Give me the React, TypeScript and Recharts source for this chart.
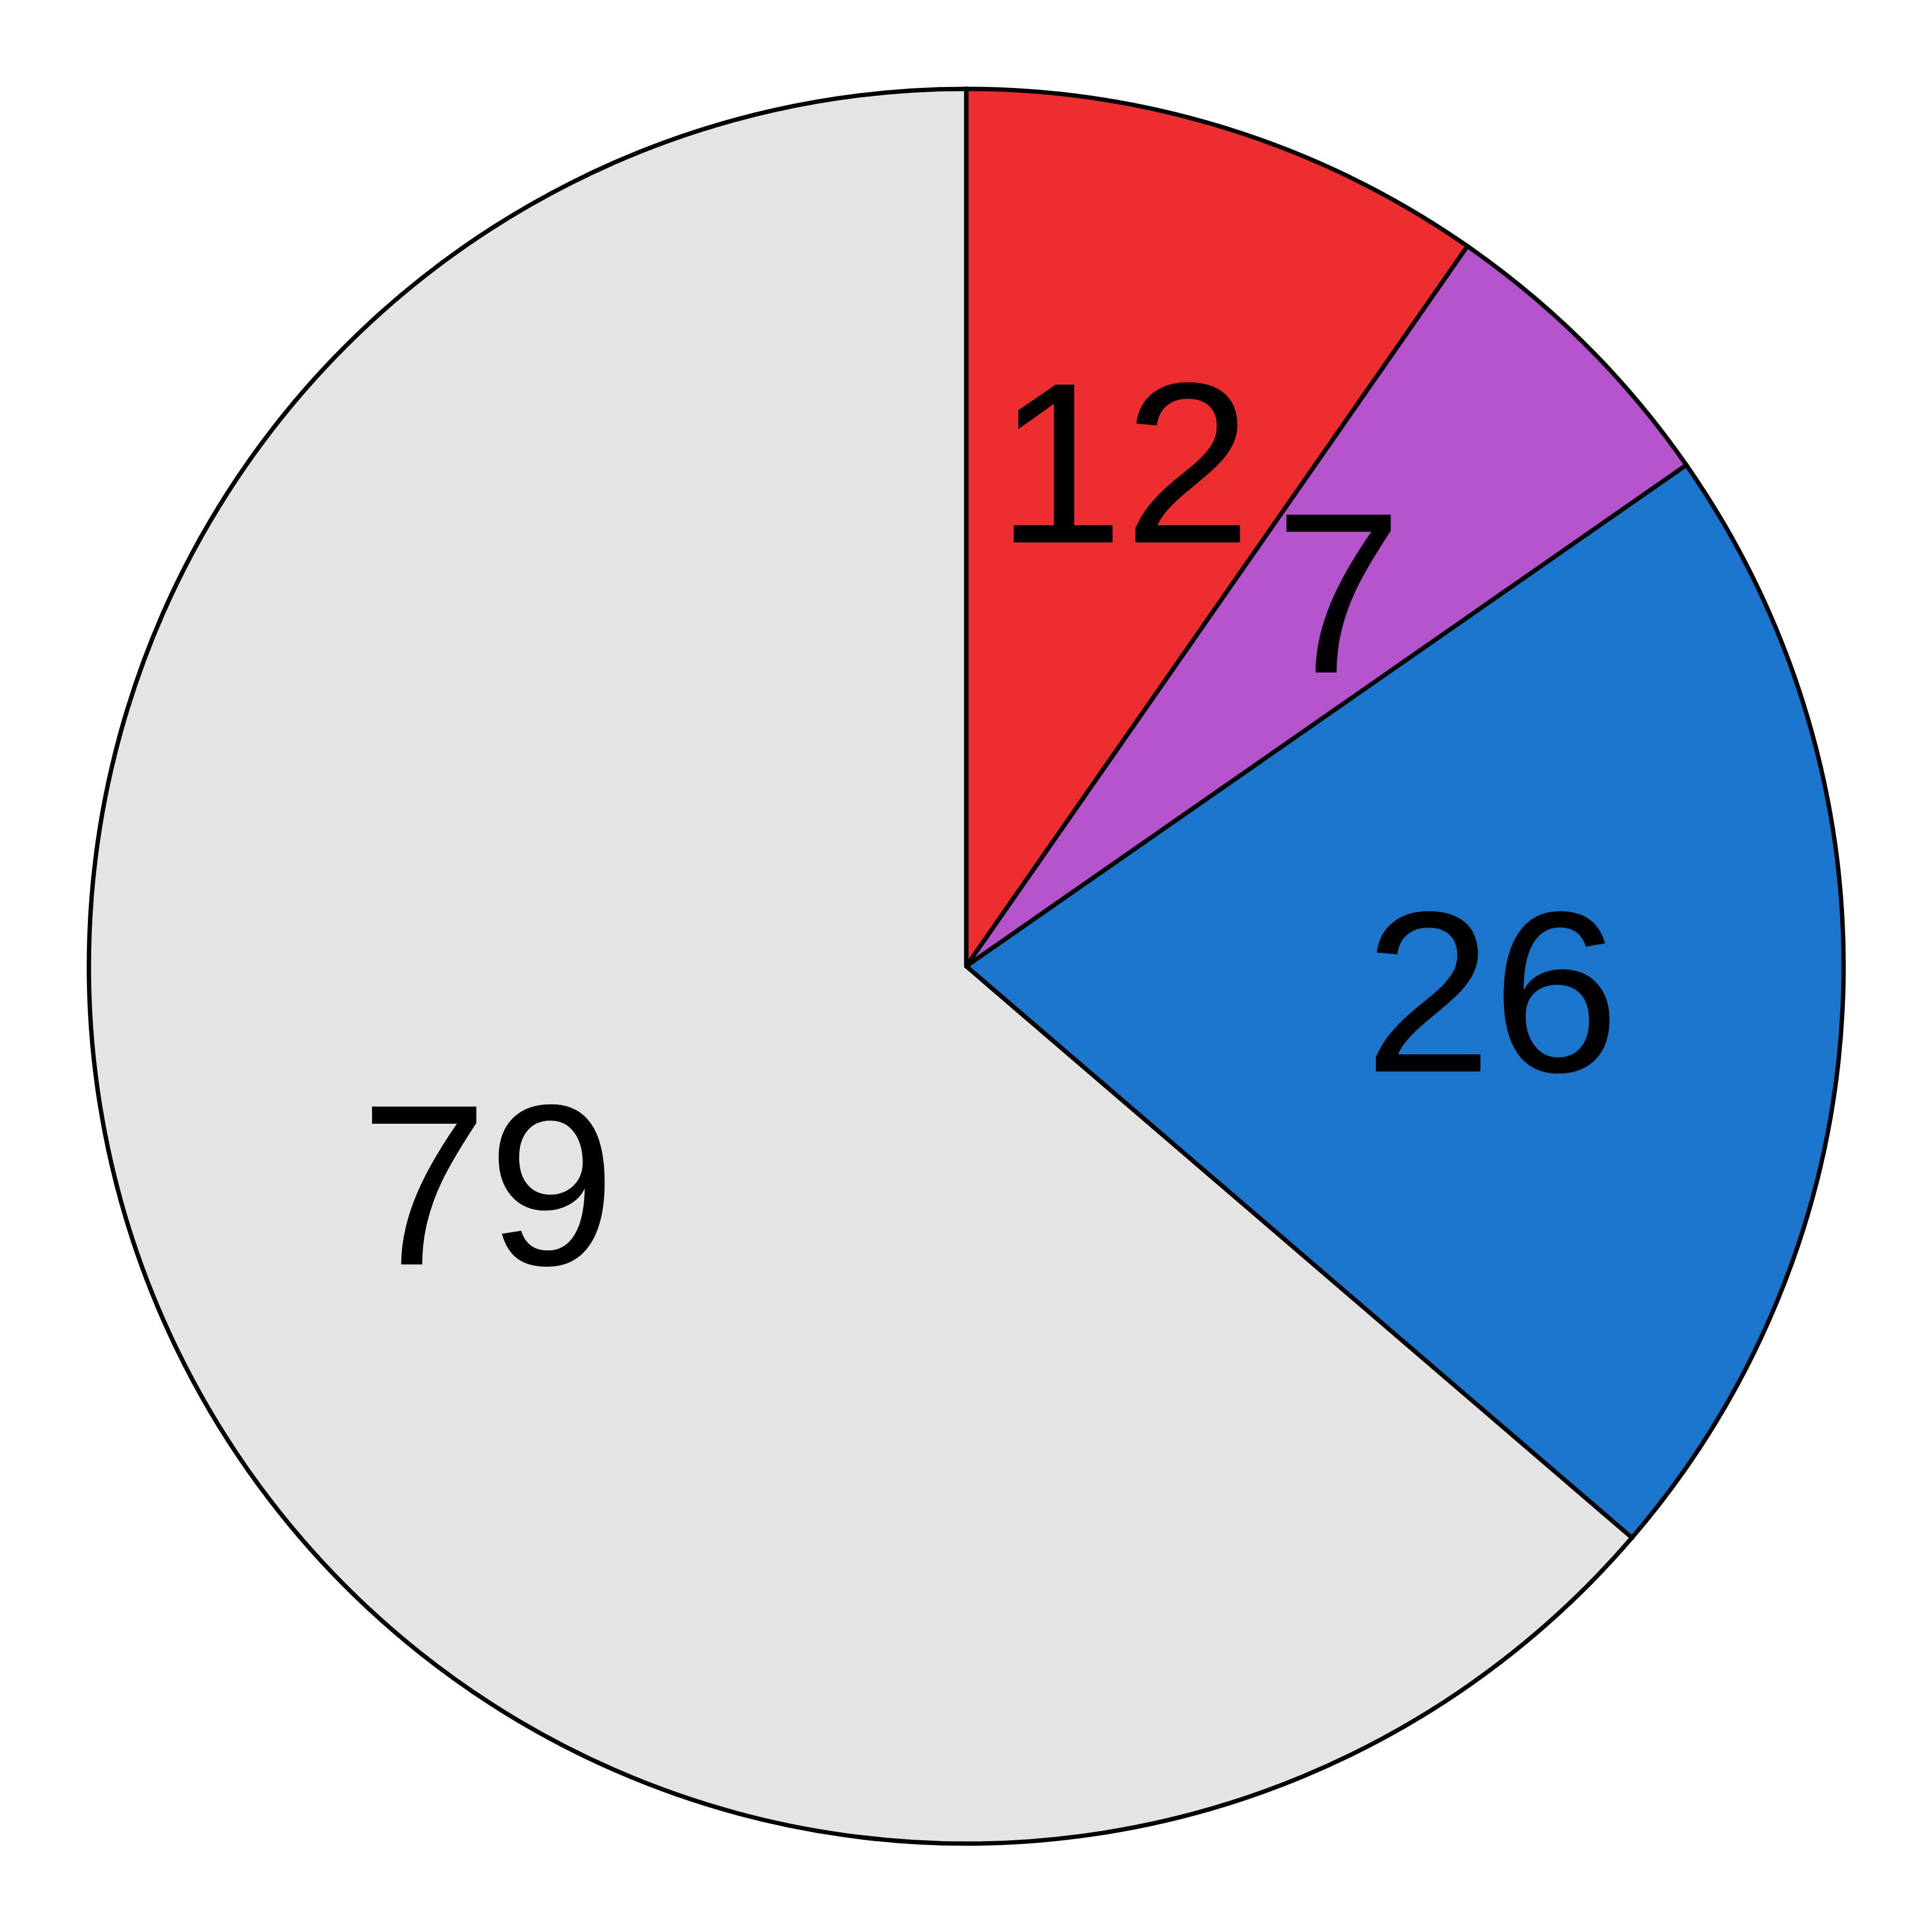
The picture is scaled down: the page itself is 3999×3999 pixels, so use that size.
import React from 'react';
import { PieChart, Pie, Cell } from 'recharts';

const labels = ['A', 'B', 'C', 'D'];
const values = [12, 7, 26, 79];
const colors = ['#EE2E2E', '#B453CC', '#1A75CD', '#E4E4E4'];

const data = labels.map((name, i) => ({ name, value: values[i] }));

const RADIAN = Math.PI / 180;
const FONT_SIZE = 475;

const renderLabel = (props: any) => {
  const { cx, cy, midAngle, outerRadius, value } = props;
  const r = outerRadius * 0.6;
  const x = cx + r * Math.cos(-midAngle * RADIAN);
  const y = cy + r * Math.sin(-midAngle * RADIAN);
  return (
    <text
      x={x}
      y={y + FONT_SIZE * 0.342}
      textAnchor="middle"
      fill="#000"
      fontSize={FONT_SIZE}
      fontFamily='"Liberation Sans", Arial, sans-serif'
    >
      {value}
    </text>
  );
};

export default function App() {
  return (
    <div style={{ position: 'absolute', left: 0, top: 0, width: 3999, height: 3999, background: '#fff' }}>
      <PieChart width={3999} height={3999} margin={{ top: 0, right: 0, bottom: 0, left: 0 }}>
        <Pie
          data={data}
          dataKey="value"
          nameKey="name"
          cx={2000}
          cy={2000}
          innerRadius={0}
          outerRadius={1816}
          startAngle={90}
          endAngle={-270}
          stroke="#000"
          strokeWidth={9}
          label={renderLabel}
          labelLine={false}
          isAnimationActive={false}
        >
          {data.map((d, i) => (
            <Cell key={d.name} fill={colors[i]} stroke="#000" strokeWidth={9} />
          ))}
        </Pie>
      </PieChart>
    </div>
  );
}
